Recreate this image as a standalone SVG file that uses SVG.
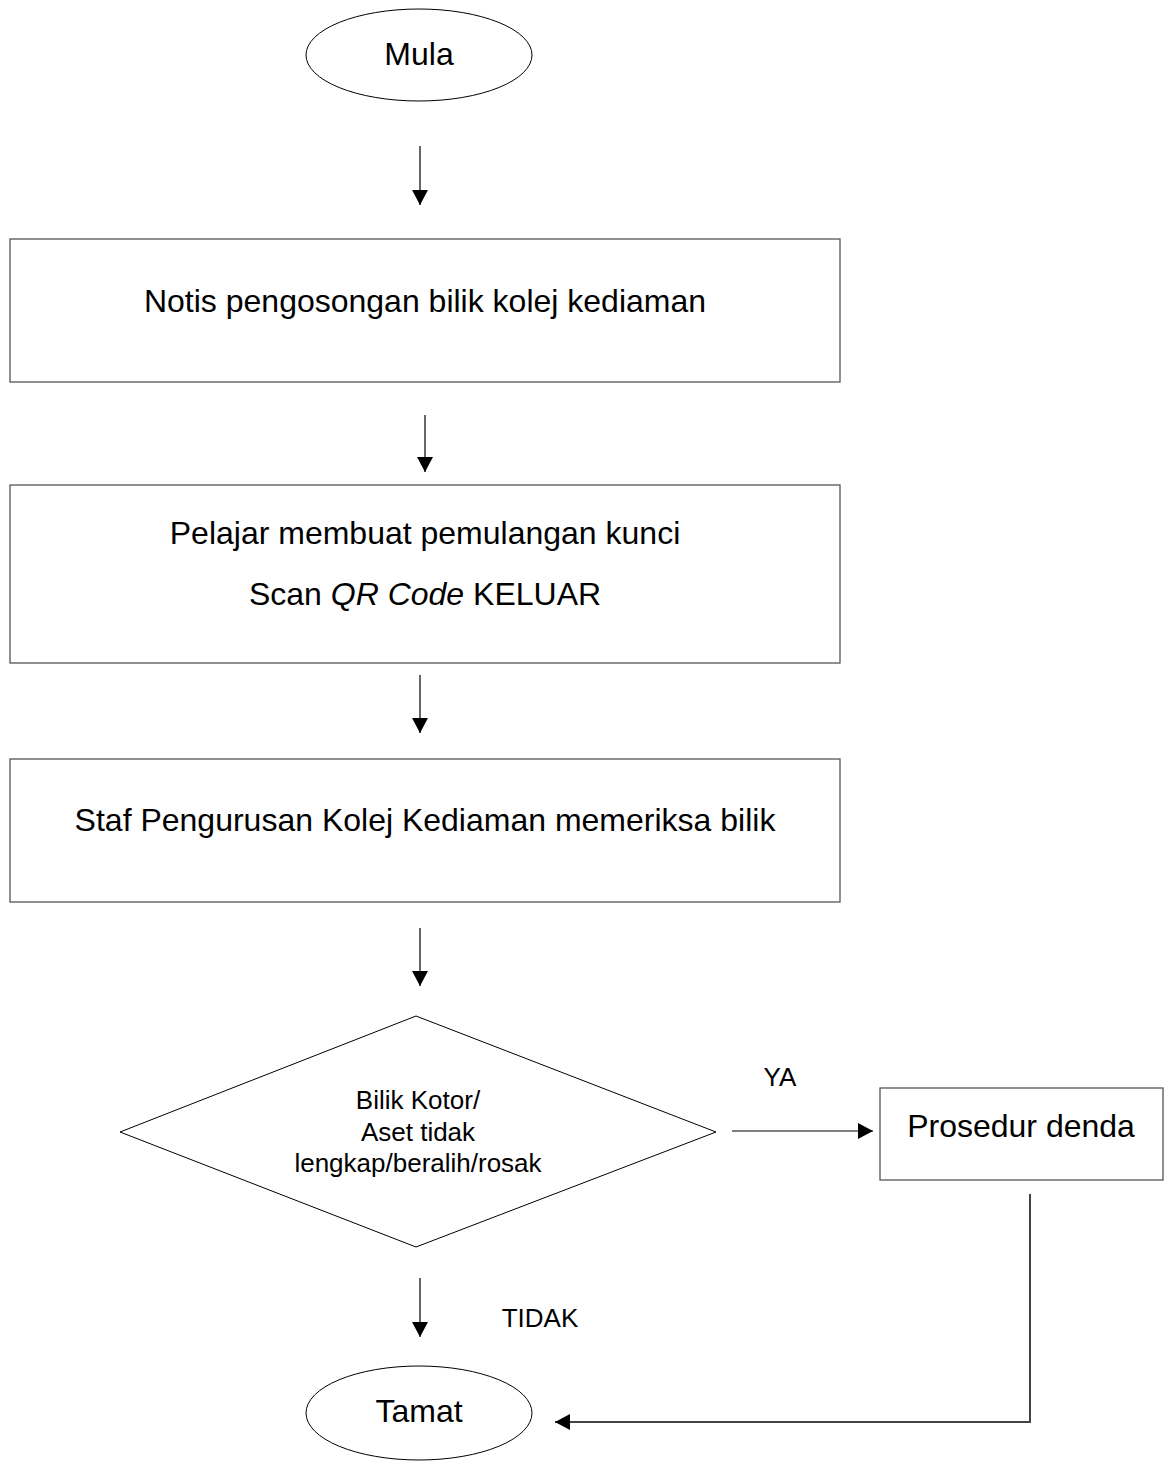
<svg xmlns="http://www.w3.org/2000/svg" width="1165" height="1461" viewBox="0 0 1165 1461">
  <style>
    .shape { fill: #ffffff; stroke: #000000; stroke-width: 1; }
    .box { fill: #ffffff; stroke: #555555; stroke-width: 1.3; }
    .wire { fill: none; stroke: #000000; stroke-width: 1.2; }
    .wire2 { fill: none; stroke: #444444; stroke-width: 2; }
    text { font-family: "Liberation Sans", Arial, sans-serif; fill: #000000; text-anchor: middle; }
    .big { font-size: 32px; }
    .small { font-size: 26px; }
  </style>
  <defs>
    <marker id="head" markerWidth="15" markerHeight="16" refX="15" refY="8" orient="auto" markerUnits="userSpaceOnUse">
      <path d="M0,0 L15,8 L0,16 Z" fill="#000000"/>
    </marker>
  </defs>

  <rect width="1165" height="1461" fill="#ffffff"/>

  <g id="mula">
    <ellipse class="shape" cx="419" cy="55" rx="113" ry="46"/>
    <text class="big" x="419" y="65">Mula</text>
  </g>

  <g id="notis">
    <rect class="box" x="10" y="239" width="830" height="143"/>
    <text class="big" x="425" y="312">Notis pengosongan bilik kolej kediaman</text>
  </g>

  <g id="pemulangan">
    <rect class="box" x="10" y="485" width="830" height="178"/>
    <text class="big" x="425" y="544">Pelajar membuat pemulangan kunci</text>
    <text class="big" x="425" y="605">Scan <tspan font-style="italic">QR Code</tspan> KELUAR</text>
  </g>

  <g id="pemeriksaan">
    <rect class="box" x="10" y="759" width="830" height="143"/>
    <text class="big" x="425" y="831">Staf Pengurusan Kolej Kediaman memeriksa bilik</text>
  </g>

  <g id="keputusan">
    <polygon class="shape" points="416,1016 716,1132 416,1247 120,1132"/>
    <text class="small" x="418" y="1109">Bilik Kotor/</text>
    <text class="small" x="418" y="1141">Aset tidak</text>
    <text class="small" x="418" y="1172">lengkap/beralih/rosak</text>
  </g>

  <g id="denda">
    <rect class="box" x="880" y="1088" width="283" height="92"/>
    <text class="big" x="1021" y="1137">Prosedur denda</text>
  </g>

  <g id="tamat">
    <ellipse class="shape" cx="419" cy="1413" rx="113" ry="47"/>
    <text class="big" x="419" y="1422">Tamat</text>
  </g>

  <g id="connectors">
    <line class="wire" x1="420" y1="146" x2="420" y2="205" marker-end="url(#head)"/>
    <line class="wire" x1="425" y1="415" x2="425" y2="472" marker-end="url(#head)"/>
    <line class="wire" x1="420" y1="675" x2="420" y2="733" marker-end="url(#head)"/>
    <line class="wire" x1="420" y1="928" x2="420" y2="986" marker-end="url(#head)"/>
    <line class="wire" x1="732" y1="1131" x2="873" y2="1131" marker-end="url(#head)"/>
    <line class="wire" x1="420" y1="1278" x2="420" y2="1337" marker-end="url(#head)"/>
    <polyline class="wire2" points="1030,1194 1030,1422 555,1422" marker-end="url(#head)"/>
    <text class="small" x="780" y="1086">YA</text>
    <text class="small" x="540" y="1327">TIDAK</text>
  </g>
</svg>
